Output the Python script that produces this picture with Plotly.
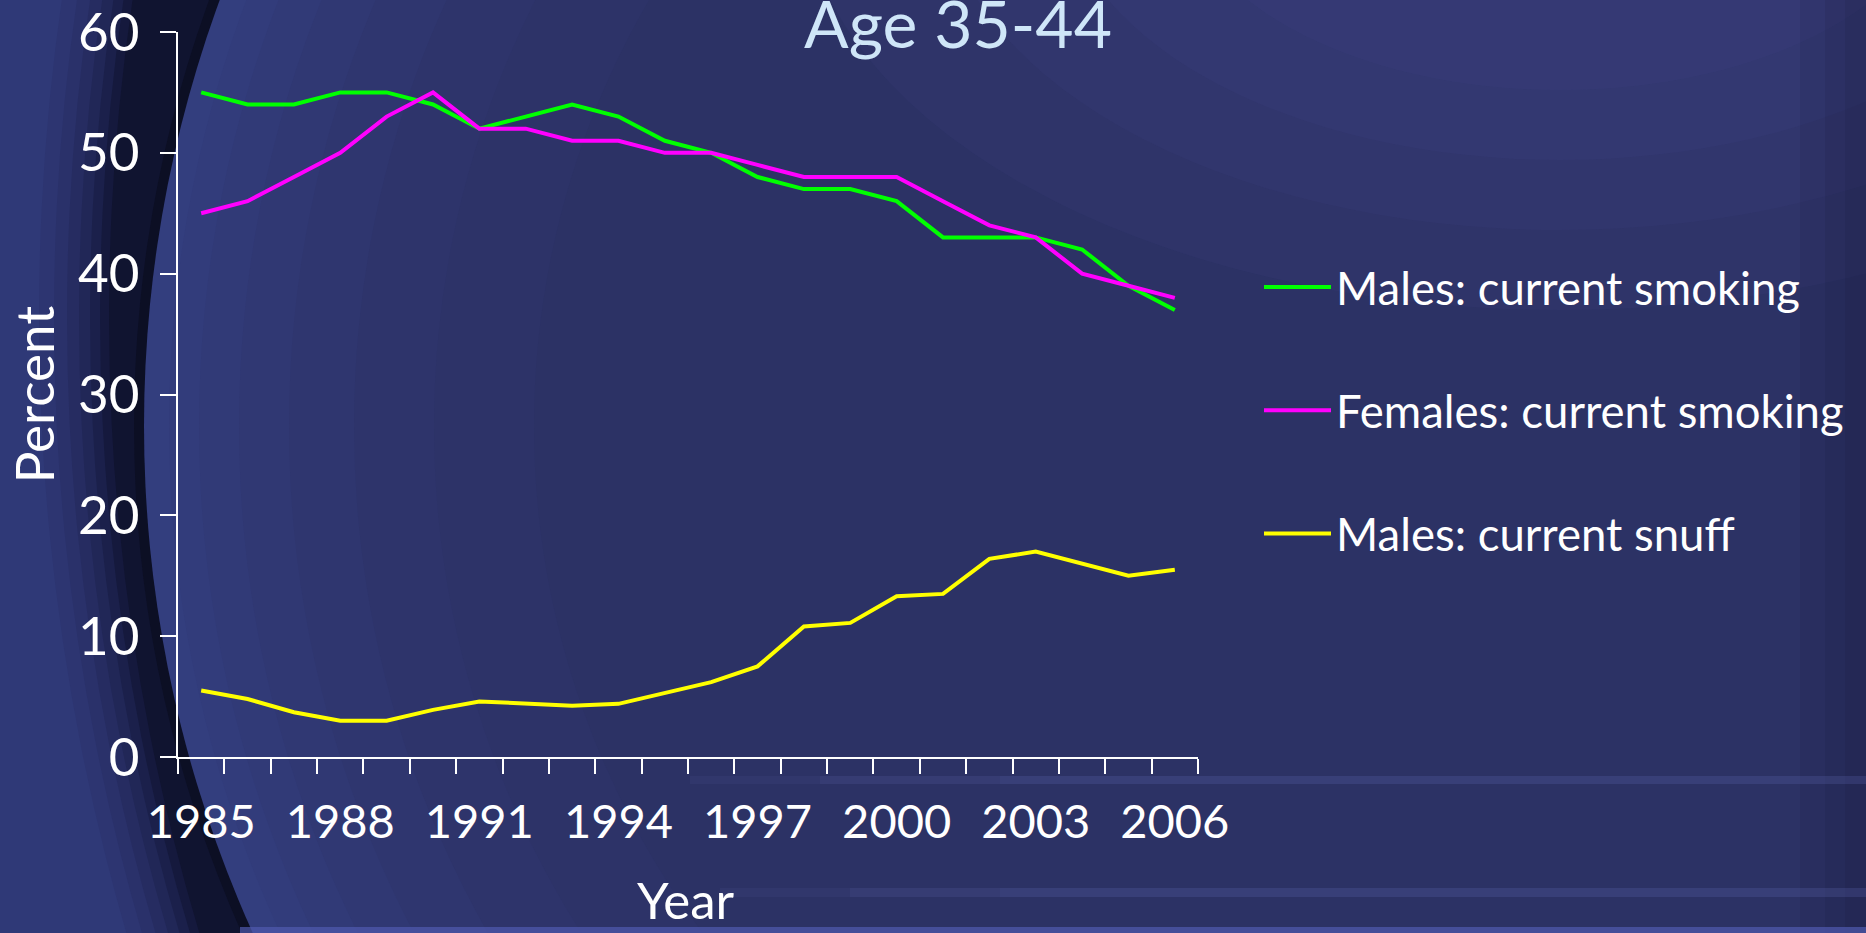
import plotly.graph_objects as go

# ---------------- data ----------------
years = list(range(1985, 2007))
males_smoking = [55, 54, 54, 55, 55, 54, 52, 53, 54, 53, 51, 50, 48, 47, 47, 46, 43, 43, 43, 42, 39, 37]
females_smoking = [45, 46, 48, 50, 53, 55, 52, 52, 51, 51, 50, 50, 49, 48, 48, 48, 46, 44, 43, 40, 39, 38]
males_snuff = [5.5, 4.8, 3.7, 3.0, 3.0, 3.9, 4.6, 4.4, 4.25, 4.4, 5.3, 6.2, 7.5, 10.8, 11.1, 13.3, 13.5, 16.4, 17.0, 16.0, 15.0, 15.5]
label_years = [1985, 1988, 1991, 1994, 1997, 2000, 2003, 2006]
y_ticks = [0, 10, 20, 30, 40, 50, 60]
series_names = ["Males: current smoking", "Females: current smoking", "Males: current snuff"]
series_colors = ["#00ff00", "#ff00ff", "#ffff00"]

# ---------------- geometry ----------------
W, H = 1866, 933
L, R, T, B = 178, 1198, 32, 757  # plot area in pixels


def px(x):
    return (x - L) / (R - L)


def py(y):
    return (B - y) / (B - T)


def circle(cx, cy, rx, color, ry=None):
    ry = rx if ry is None else ry
    return dict(type="circle", xref="paper", yref="paper", layer="below",
                x0=px(cx - rx), x1=px(cx + rx), y0=py(cy + ry), y1=py(cy - ry),
                fillcolor=color, line=dict(width=0))


def rect(x0, y0, x1, y1, color):
    return dict(type="rect", xref="paper", yref="paper", layer="below",
                x0=px(x0), x1=px(x1), y0=py(y1), y1=py(y0),
                fillcolor=color, line=dict(width=0))


FONT = "Lato"

fig = go.Figure()
for name, vals, col in zip(series_names, [males_smoking, females_smoking, males_snuff], series_colors):
    fig.add_trace(go.Scatter(x=years, y=vals, mode="lines", name=name, legendgroup=name,
                             line=dict(color=col, width=4)))

shapes = []
# outer dark crescent, fading from the light left strip into near-black
outer = [(70, "#2d3571"), (55, "#2a316a"), (42, "#262c61"), (30, "#212757"),
         (19, "#1b204b"), (9, "#15193d"), (0, "#101430")]
for dr, col in outer:
    shapes.append(circle(2254, 317, 2145 + dr, col))
shapes.append(circle(1380, 426, 1236 + 10, "#0c0f24"))
# interior, lighter near the arc and fading to the slide colour
inner = [(0, "#333e7e"), (25, "#323c7b"), (55, "#313a77"), (95, "#303873"),
         (145, "#2f366f"), (210, "#2e346b"), (290, "#2d3368"), (390, "#2c3265")]
for dr, col in inner:
    shapes.append(circle(1380, 426, 1236 - dr, col))
# soft top-right glow
for rx, ry in [(760, 430), (620, 350), (500, 280), (380, 210)]:
    shapes.append(circle(1560, -120, rx, "rgba(75,78,160,0.09)", ry))
# right edge darkening
for x0 in (1800, 1825, 1845):
    shapes.append(rect(x0, 0, 1866, 933, "rgba(18,20,45,0.10)"))
# horizontal light stripes near the bottom
for x0, a in ((690, 0.10), (820, 0.10), (1000, 0.08)):
    shapes.append(rect(x0, 776, 1866, 784, f"rgba(95,105,175,{a})"))
for x0, a in ((720, 0.10), (850, 0.10), (1000, 0.08)):
    shapes.append(rect(x0, 888, 1866, 897, f"rgba(95,105,175,{a})"))
shapes.append(rect(240, 927, 1866, 933, "rgba(80,90,175,0.7)"))

fig.update_layout(
    width=W, height=H, autosize=False,
    margin=dict(l=L, r=W - R, t=T, b=H - B, pad=0, autoexpand=False),
    paper_bgcolor="#2f3977",
    plot_bgcolor="rgba(0,0,0,0)",
    shapes=shapes,
    showlegend=True,
    title=dict(text="Age 35-44", font=dict(family=FONT, size=66, color="#cfe6f8"),
               x=958 / W, xref="container", xanchor="center",
               y=1 - 25 / H, yref="container", yanchor="middle", automargin=False),
    legend=dict(font=dict(family=FONT, size=45.5, color="white"),
                x=1259 / W, xref="container", xanchor="left",
                y=1 - 251 / H, yref="container", yanchor="top",
                itemwidth=67,
                bgcolor="rgba(0,0,0,0)", traceorder="grouped", tracegroupgap=61),
    annotations=[dict(text="Year", xref="paper", yref="paper", x=px(686), y=py(867),
                      xanchor="center", yanchor="top", showarrow=False,
                      font=dict(family=FONT, size=51, color="white"))],
    xaxis=dict(range=[1984.5, 2006.5], tickmode="array", tickvals=label_years,
               ticktext=[str(v) for v in label_years], ticks="",
               tickfont=dict(family=FONT, size=47, color="white"),
               ticklabelstandoff=23, ticklabeloverflow="allow",
               minor=dict(tickmode="array", tickvals=[v - 0.5 for v in years] + [years[-1] + 0.5],
                          ticks="outside", ticklen=15, tickwidth=2, tickcolor="white", showgrid=False),
               showline=True, linecolor="white", linewidth=2, showgrid=False, zeroline=False,
               automargin=False, fixedrange=True),
    yaxis=dict(range=[0, 60], tickmode="array", tickvals=y_ticks, ticks="outside", ticklen=16,
               tickwidth=2, tickcolor="white",
               tickfont=dict(family=FONT, size=53, color="white"),
               ticklabelstandoff=10, ticklabeloverflow="allow",
               showline=True, linecolor="white", linewidth=2, showgrid=False, zeroline=False,
               automargin=False,
               title=dict(text="Percent", font=dict(family=FONT, size=53, color="white"), standoff=6),
               fixedrange=True),
)

fig.write_html("out.html", config={"displayModeBar": False},
               post_script="document.body.style.margin='0';document.body.style.overflow='hidden';")
